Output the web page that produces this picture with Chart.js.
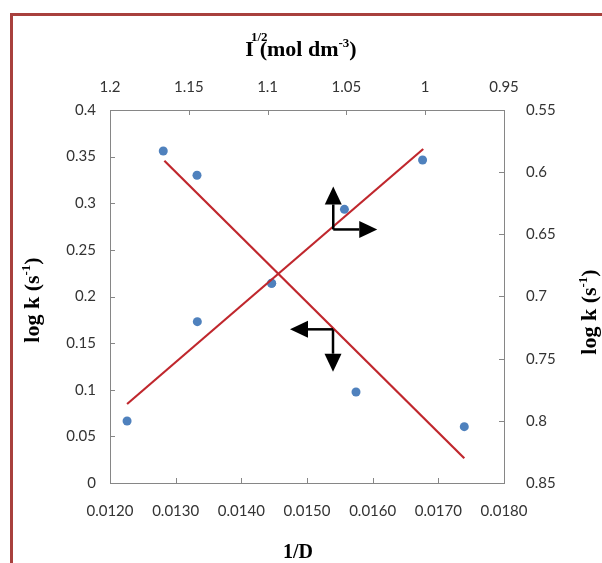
<!DOCTYPE html>
<html><head><meta charset="utf-8">
<script src="https://cdn.jsdelivr.net/npm/chart.js@4"></script>
<style>html,body{margin:0;padding:0;background:#fff;overflow:hidden}</style>
</head><body>
<canvas id="c" width="602" height="563"></canvas>
<script>
// ---- data ----
const invD   = [0.01226, 0.01333, 0.01446, 0.01557, 0.01676];   // 1/D (bottom axis)
const logkA  = [0.0665, 0.173, 0.2142, 0.2935, 0.3464];          // log k (left axis)
const sqrtI  = [1.1662, 1.1448, 1.0974, 1.0439, 0.9752];         // I^1/2 (top axis)
const logkB  = [0.583, 0.6025, 0.6894, 0.7768, 0.8047];          // log k (right axis)
const fitAx  = [0.01226, 0.01677];
const fitAy  = [0.0847, 0.3582];
const fitBx  = [1.1655, 0.9752];
const fitBy  = [0.5908, 0.8301];
const xTicks  = [0.012, 0.013, 0.014, 0.015, 0.016, 0.017, 0.018];
const x2Ticks = [1.2, 1.15, 1.1, 1.05, 1, 0.95];
const yTicks  = [0, 0.05, 0.1, 0.15, 0.2, 0.25, 0.3, 0.35, 0.4];
const y2Ticks = [0.55, 0.6, 0.65, 0.7, 0.75, 0.8, 0.85];
const xTickLabels  = ['0.0120','0.0130','0.0140','0.0150','0.0160','0.0170','0.0180'];
const x2TickLabels = ['1.2','1.15','1.1','1.05','1','0.95'];
const yTickLabels  = ['0','0.05','0.1','0.15','0.2','0.25','0.3','0.35','0.4'];
const y2TickLabels = ['0.55','0.6','0.65','0.7','0.75','0.8','0.85'];
// arrows: origin, horizontal tip, vertical tip (in data units of their axes)
const arrowA = {xs:'x',  ys:'y',  ox:0.01540, oy:0.2719, hx:0.01607, vy:0.3180};
const arrowB = {xs:'x2', ys:'y2', ox:1.0585,  oy:0.7264, hx:1.0858,  vy:0.7605};
// axis titles (rich text parts)
const titleTop    = [{t:'I'},{t:'1/2',sup:true,adv:0.35,dy:-15,dx:-3},{t:'(mol dm'},{t:'-3',sup:true,dy:-9},{t:')'}];
const titleBottom = [{t:'1/D'}];
const titleLeft   = [{t:'log k (s'},{t:'-1',sup:true,dy:-9},{t:')'}];
const titleRight  = [{t:'log k (s'},{t:'-1',sup:true,dy:-9},{t:')'}];

const AXIS = '#868686';
const TICKFONT = {family:'Lato', size:15};
const TICKCOL = '#333333';
const TF = 'Liberation Serif';

function advOf(c,p){ const w=c.measureText(p.t).width; return p.adv!==undefined ? w*p.adv : w; }
function drawRich(c, parts, cx, baseY, size){
  const sup = Math.round(size*0.58);
  let w=0;
  for(const p of parts){ c.font='bold '+(p.sup?sup:size)+'px "'+TF+'"'; w+=advOf(c,p); }
  let x = cx - w/2;
  c.textBaseline='alphabetic'; c.textAlign='left'; c.fillStyle='#000';
  for(const p of parts){
    c.font='bold '+(p.sup?sup:size)+'px "'+TF+'"';
    c.fillText(p.t, x + (p.dx||0), baseY + (p.dy||0));
    x += advOf(c,p);
  }
}
function arrowHead(c, x1,y1,x2,y2){
  const L=18, W=8.5;
  const a=Math.atan2(y2-y1,x2-x1);
  const bx=x2-L*Math.cos(a), by=y2-L*Math.sin(a);
  c.beginPath(); c.moveTo(x1,y1); c.lineTo(bx,by); c.stroke();
  c.beginPath(); c.moveTo(x2,y2);
  c.lineTo(bx+W*Math.sin(a), by-W*Math.cos(a));
  c.lineTo(bx-W*Math.sin(a), by+W*Math.cos(a));
  c.closePath(); c.fill();
}

const decor = {
  id:'decor',
  beforeDraw(chart){
    const c=chart.ctx; c.save();
    c.fillStyle='#fff'; c.fillRect(0,0,chart.width,chart.height);
    c.strokeStyle='#a8403d'; c.lineWidth=3; c.strokeRect(11.5,14.5,900,900);
    c.restore();
  },
  beforeDatasetsDraw(chart){
    const c=chart.ctx, a=chart.chartArea, s=chart.scales; c.save();
    c.strokeStyle=AXIS; c.lineWidth=1; const L=5;
    c.beginPath();
    for(const v of xTicks){const p=Math.round(s.x.getPixelForValue(v))+0.5; c.moveTo(p,a.bottom); c.lineTo(p,a.bottom-L);}
    for(const v of x2Ticks){const p=Math.round(s.x2.getPixelForValue(v))+0.5; c.moveTo(p,a.top); c.lineTo(p,a.top+L);}
    for(const v of yTicks){const p=Math.round(s.y.getPixelForValue(v))+0.5; c.moveTo(a.left,p); c.lineTo(a.left+L,p);}
    for(const v of y2Ticks){const p=Math.round(s.y2.getPixelForValue(v))+0.5; c.moveTo(a.right,p); c.lineTo(a.right-L,p);}
    c.stroke(); c.restore();
  },
  afterDraw(chart){
    const c=chart.ctx, s=chart.scales; c.save();
    c.strokeStyle='#000'; c.fillStyle='#000'; c.lineWidth=2.5;
    for(const ar of [arrowA, arrowB]){
      const X=s[ar.xs], Y=s[ar.ys];
      const ox=X.getPixelForValue(ar.ox), oy=Y.getPixelForValue(ar.oy);
      arrowHead(c, ox, oy, X.getPixelForValue(ar.hx), oy);
      arrowHead(c, ox, oy, ox, Y.getPixelForValue(ar.vy));
    }
    drawRich(c, titleTop, 301, 56, 22);
    drawRich(c, titleBottom, 298, 558, 20);
    c.save(); c.translate(39, 300); c.rotate(-Math.PI/2); drawRich(c, titleLeft, 0, 0, 22); c.restore();
    c.save(); c.translate(596, 312); c.rotate(-Math.PI/2); drawRich(c, titleRight, 0, 0, 22); c.restore();
    c.restore();
  }
};

function fixedTicks(arr){ return s => { s.ticks = arr.map(v=>({value:v})); }; }
function labelCb(vals, labels){ return (v)=>{ const i=vals.findIndex(t=>Math.abs(t-v)<1e-9); return i>=0?labels[i]:''; }; }
const noGrid = {display:false, drawTicks:false};
const bord = {display:true, color:AXIS, width:1};

new Chart(document.getElementById('c'), {
  type:'scatter',
  data:{datasets:[
    {label:'log k vs 1/D', data:invD.map((x,i)=>({x, y:logkA[i]})), xAxisID:'x', yAxisID:'y',
     pointRadius:4.5, pointHoverRadius:4.5, backgroundColor:'#4F81BD', borderWidth:0, order:2},
    {label:'log k vs I^1/2', data:sqrtI.map((x,i)=>({x, y:logkB[i]})), xAxisID:'x2', yAxisID:'y2',
     pointRadius:4.5, pointHoverRadius:4.5, backgroundColor:'#4F81BD', borderWidth:0, order:2},
    {type:'line', label:'fit 1', data:fitAx.map((x,i)=>({x, y:fitAy[i]})), xAxisID:'x', yAxisID:'y',
     showLine:true, pointRadius:0, borderColor:'#c0272d', borderWidth:2.2, fill:false, order:1},
    {type:'line', label:'fit 2', data:fitBx.map((x,i)=>({x, y:fitBy[i]})), xAxisID:'x2', yAxisID:'y2',
     showLine:true, pointRadius:0, borderColor:'#c0272d', borderWidth:2.2, fill:false, order:1}
  ]},
  options:{
    responsive:false, animation:false, devicePixelRatio:1,
    layout:{padding:0, autoPadding:false},
    plugins:{legend:{display:false}, tooltip:{enabled:false}, title:{display:false}},
    scales:{
      x:{type:'linear', position:'bottom', min:0.012, max:0.018, grid:noGrid, border:bord,
         afterBuildTicks:fixedTicks(xTicks), afterFit:s=>{s.height=80;},
         ticks:{font:TICKFONT, color:TICKCOL, padding:19, maxRotation:0, autoSkip:false, callback:labelCb(xTicks,xTickLabels)}},
      x2:{type:'linear', position:'top', min:0.95, max:1.2, reverse:true, grid:noGrid, border:bord,
         afterBuildTicks:fixedTicks(x2Ticks), afterFit:s=>{s.height=110;},
         ticks:{font:TICKFONT, color:TICKCOL, padding:14, maxRotation:0, autoSkip:false, callback:labelCb(x2Ticks,x2TickLabels)}},
      y:{type:'linear', position:'left', min:0, max:0.4, grid:noGrid, border:bord,
         afterBuildTicks:fixedTicks(yTicks), afterFit:s=>{s.width=110;},
         ticks:{font:TICKFONT, color:TICKCOL, padding:14, autoSkip:false, callback:labelCb(yTicks,yTickLabels)}},
      y2:{type:'linear', position:'right', min:0.55, max:0.85, reverse:true, grid:noGrid, border:bord,
         afterBuildTicks:fixedTicks(y2Ticks), afterFit:s=>{s.width=98;},
         ticks:{font:TICKFONT, color:TICKCOL, padding:22, autoSkip:false, callback:labelCb(y2Ticks,y2TickLabels)}}
    }
  },
  plugins:[decor]
});
</script>
</body></html>
